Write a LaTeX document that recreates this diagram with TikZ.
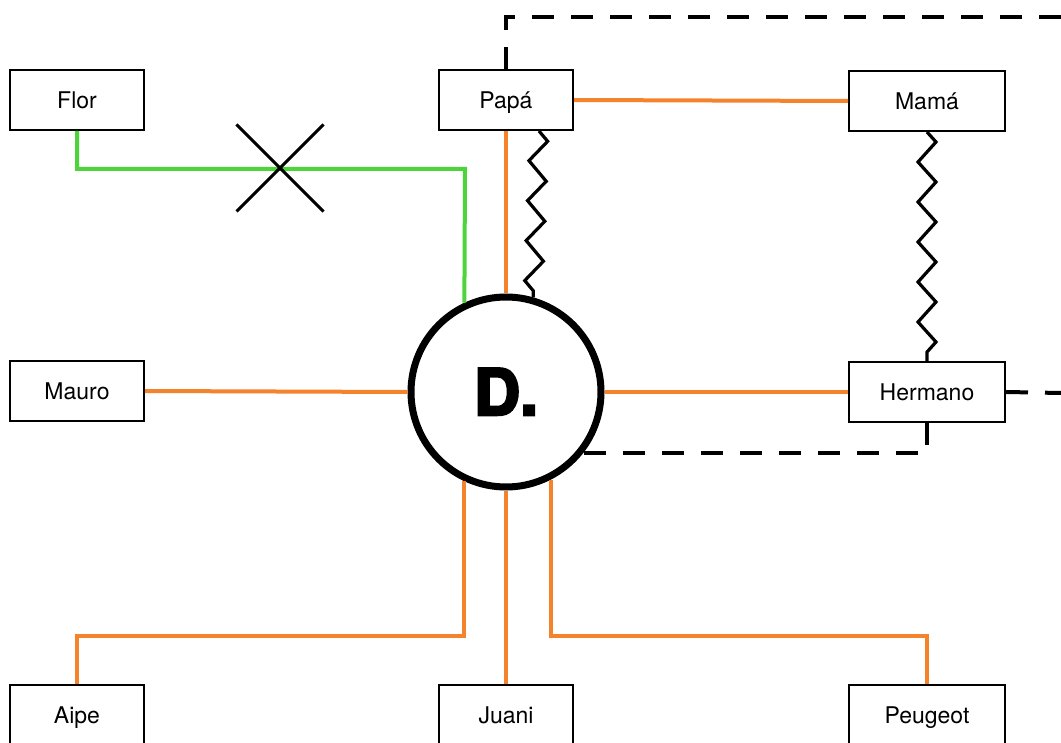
\documentclass[tikz,border=0pt]{standalone}
\usepackage{fontspec}
\setmainfont{TeX Gyre Heros}
\newfontfamily\blackfont[BoldFeatures={FakeBold=4}]{TeX Gyre Heros}
\usepackage{tikz}
\usetikzlibrary{shapes.misc,decorations.pathmorphing,calc}
\definecolor{linkorange}{HTML}{F5832B}
\definecolor{linkgreen}{HTML}{4CD43A}

\begin{document}
\begin{tikzpicture}[x=0.5pt,y=-0.5pt,
    person/.style={draw,line width=1pt,fill=white,minimum height=30pt,
      minimum width=67pt,text height=8.3pt,text depth=0pt,
      font=\fontsize{11.5}{13}\selectfont},
    wide/.style={person,minimum width=78pt},
    tie/.style={linkorange,line width=2pt},
    broken/.style={linkgreen,line width=2pt},
    conflict/.style={line width=1.6pt,decorate,
      decoration={zigzag,segment length=20pt,amplitude=4.5pt}},
    hidden/.style={line width=2pt,dash pattern=on 11pt off 8.5pt}]
        \useasboundingbox (0,0) rectangle (1061,743);
        \node[circle,draw,line width=3.5pt,minimum size=95pt,fill=white,
          text height=23pt,text depth=0pt] (d) at (506,392)
          {\fontsize{32}{32}\blackfont\bfseries D.}; % centre
        \node[person] (flor) at (77,100) {Flor};
        \node[person] (papa) at (506,100) {Papá};
        \node[wide] (mama) at (927,101) {Mamá};
        \node[person] (mauro) at (77,391) {Mauro};
        \node[wide] (hermano) at (927,392) {Hermano};
        \node[person] (aipe) at (77,715) {Aipe};
        \node[person] (juani) at (506,715) {Juani};
        \node[wide] (peugeot) at (927,715) {Peugeot};
        \coordinate (florbend) at (465,169);
        \coordinate (topright) at (1061,17);
        \coordinate (midright) at (1061,393);
        \draw[tie] (papa.east) -- (mama.west); % parents
        \draw[tie] (papa.south) -- (d.north);
        \draw[tie] (mauro.east) -- (d.west);
        \draw[tie] (d.east) -- (hermano.west);
        \draw[tie] (d.south) -- (juani.north);
        \draw[tie] (d.-115) |- ($(aipe.north)+(0,-48)$) -- (aipe.north);
        \draw[tie] (d.-63) |- ($(peugeot.north)+(0,-48)$) -- (peugeot.north);
        \draw[broken] (flor.south) |- (florbend) -- (d.115); % cut link
        \node[draw,cross out,line width=1.5pt,minimum size=42pt] (cut) at (280,168) {};
        \draw[conflict] ($(papa.south)+(33,0)$) -- (d.74); % zigzags
        \draw[conflict] (mama.south) -- (hermano.north);
        \draw[hidden] (papa.north) |- (topright); % dashed
        \draw[hidden] (hermano.east) -- (midright);
        \draw[hidden] (hermano.south) |- (d.-38);
      \end{tikzpicture}
\end{document}
